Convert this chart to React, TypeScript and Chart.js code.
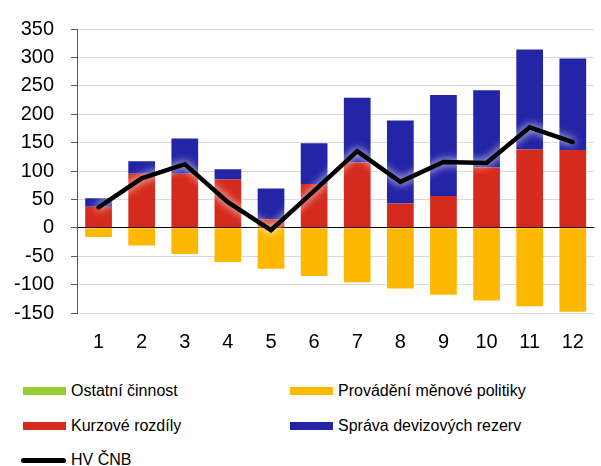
import React, { useEffect, useRef } from "react";
import { Chart, registerables } from "chart.js";

Chart.register(...registerables);

const categories = ["1", "2", "3", "4", "5", "6", "7", "8", "9", "10", "11", "12"];
const ostatniCinnost = [0, 0, 0, 0, 0, 0, 0, 0, 0, 0, 0, 0];
const kurzoveRozdily = [37, 95, 95, 85, 15, 77, 115, 43, 56, 106, 138, 137];
const spravaRezerv = [15, 22, 62, 18, 54, 72, 114, 146, 178, 136, 176, 161];
const menovaPolitika = [-16, -31, -46, -60, -72, -85, -96, -107, -118, -128, -138, -148];
const hvCnb = [36, 87, 112, 45, -4, 65, 135, 81, 116, 114, 177, 151];

const yTicks = [-150, -100, -50, 0, 50, 100, 150, 200, 250, 300, 350];

const COLORS = {
  green: "#99CC33",
  yellow: "#FFB800",
  red: "#D52B1E",
  blue: "#2424A6",
  black: "#000000",
};

const legendItems = [
  { label: "Ostatní činnost", color: COLORS.green, type: "bar", col: 0, row: 0 },
  { label: "Provádění měnové politiky", color: COLORS.yellow, type: "bar", col: 1, row: 0 },
  { label: "Kurzové rozdíly", color: COLORS.red, type: "bar", col: 0, row: 1 },
  { label: "Správa devizových rezerv", color: COLORS.blue, type: "bar", col: 1, row: 1 },
  { label: "HV ČNB", color: COLORS.black, type: "line", col: 0, row: 2 },
];

const FONT = "'Liberation Sans', Arial, sans-serif";

export default function App() {
  const canvasRef = useRef<HTMLCanvasElement | null>(null);

  useEffect(() => {
    document.body.style.margin = "0";
    const canvas = canvasRef.current;
    if (!canvas) return;

    const glowPlugin = {
      id: "glow",
      beforeDatasetDraw(chart: any, args: any) {
        if (chart.data.datasets[args.index].type === "line") {
          const ctx = chart.ctx;
          ctx.save();
          ctx.shadowColor = "rgba(255,255,255,1)";
          ctx.shadowBlur = 9;
        }
      },
      afterDatasetDraw(chart: any, args: any) {
        if (chart.data.datasets[args.index].type === "line") {
          chart.ctx.restore();
        }
      },
    };

    const chart = new Chart(canvas, {
      type: "bar",
      data: {
        labels: categories,
        datasets: [
          {
            type: "line",
            label: "HV ČNB",
            data: hvCnb,
            borderColor: COLORS.black,
            backgroundColor: COLORS.black,
            borderWidth: 4.5,
            pointRadius: 0,
            tension: 0,
            order: 0,
            borderCapStyle: "round",
            borderJoinStyle: "miter",
          } as any,
          {
            label: "Ostatní činnost",
            data: ostatniCinnost,
            backgroundColor: COLORS.green,
            stack: "s",
            order: 1,
          },
          {
            label: "Kurzové rozdíly",
            data: kurzoveRozdily,
            backgroundColor: COLORS.red,
            stack: "s",
            order: 1,
          },
          {
            label: "Správa devizových rezerv",
            data: spravaRezerv,
            backgroundColor: COLORS.blue,
            stack: "s",
            order: 1,
          },
          {
            label: "Provádění měnové politiky",
            data: menovaPolitika,
            backgroundColor: COLORS.yellow,
            stack: "s",
            order: 1,
          },
        ],
      },
      options: {
        animation: false,
        responsive: false,
        maintainAspectRatio: false,
        layout: { padding: { top: 23, right: 2, left: 0, bottom: 0 } },
        datasets: {
          bar: { categoryPercentage: 1, barPercentage: 0.62 },
        },
        plugins: {
          legend: { display: false },
          tooltip: { enabled: false },
        },
        scales: {
          x: {
            stacked: true,
            grid: { display: false, drawTicks: false },
            border: { display: false },
            ticks: {
              color: "#000",
              font: { family: FONT, size: 20 },
              padding: 17,
              maxRotation: 0,
            },
            afterFit(scale: any) {
              scale.height = 57;
            },
          },
          y: {
            stacked: true,
            min: -150,
            max: 350,
            afterBuildTicks(scale: any) {
              scale.ticks = yTicks.map((v) => ({ value: v }));
            },
            grid: {
              color: (ctx: any) => (ctx.tick && ctx.tick.value === 0 ? "#000000" : "#D9D9D9"),
              lineWidth: 1,
              tickLength: 6,
              tickColor: "#595959",
            },
            border: { display: true, color: "#595959", width: 1 },
            ticks: {
              color: "#000",
              font: { family: FONT, size: 20 },
              padding: 17,
            },
            afterFit(scale: any) {
              scale.width = 77;
            },
          },
        },
      },
      plugins: [glowPlugin],
    });

    return () => chart.destroy();
  }, []);

  const colX = [21, 290];
  const rowY = [391, 426, 460];

  return (
    <div style={{ position: "relative", width: 601, height: 466, background: "#fff", fontFamily: FONT }}>
      <canvas ref={canvasRef} width={601} height={370} style={{ position: "absolute", left: 0, top: 0 }} />
      {legendItems.map((it, i) => (
        <div
          key={i}
          style={{
            position: "absolute",
            left: colX[it.col],
            top: rowY[it.row] - 12,
            height: 24,
            display: "flex",
            alignItems: "center",
            whiteSpace: "nowrap",
            fontSize: 16,
            color: "#000",
          }}
        >
          {it.type === "bar" ? (
            <div style={{ width: 43, height: 8, background: it.color, marginLeft: it.col === 0 ? 2 : 0, marginRight: 5 }} />
          ) : (
            <div style={{ width: 45, height: 5, background: it.color, borderRadius: 3, marginRight: 5 }} />
          )}
          <span>{it.label}</span>
        </div>
      ))}
    </div>
  );
}
